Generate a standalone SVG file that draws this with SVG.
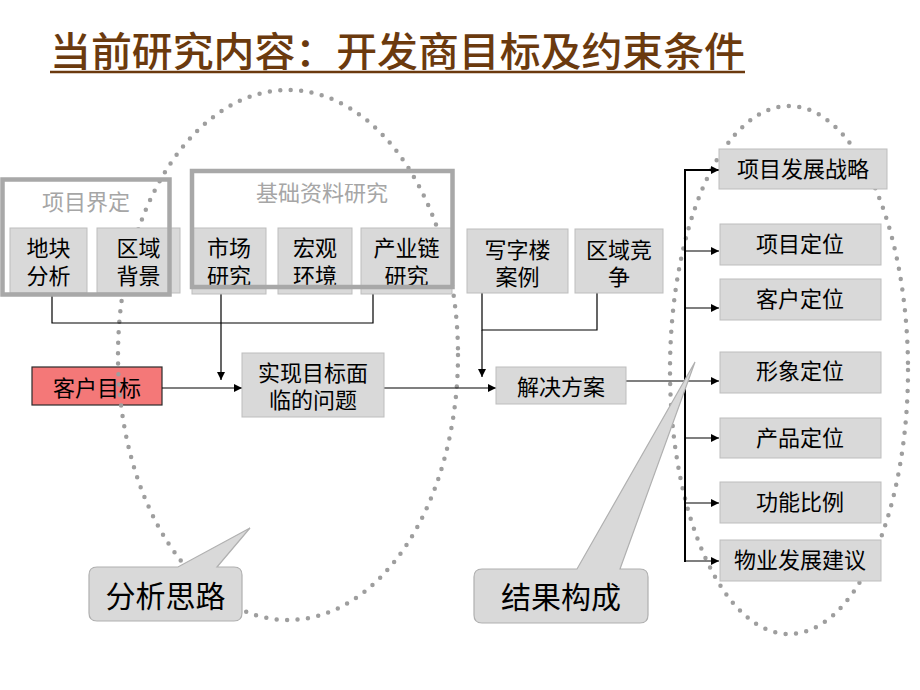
<svg xmlns="http://www.w3.org/2000/svg" width="920" height="690" viewBox="0 0 920 690">
<defs>
<style>
.t{font-family:"Liberation Sans","Noto Sans CJK SC",sans-serif;fill:#000;text-anchor:middle}
.box{fill:#d9d9d9;stroke:#bdbdbd;stroke-width:1}
.grp{fill:none;stroke:#a8a8a8;stroke-width:4.5}
.glbl{font-family:"Liberation Sans","Noto Sans CJK SC",sans-serif;fill:#a6a6a6;font-size:22px;text-anchor:middle}
.ln{fill:none;stroke:#000;stroke-width:1.2}
.bus{fill:none;stroke:#000;stroke-width:2}
.dots{fill:none;stroke:#9e9e9e;stroke-width:4.5;stroke-linecap:round;stroke-dasharray:0 10.5}
.call{fill:#d9d9d9;stroke:#b0b0b0;stroke-width:1.2}
</style>
<marker id="ah" viewBox="0 0 10 10" refX="10" refY="5" markerWidth="8" markerHeight="8" markerUnits="userSpaceOnUse" orient="auto">
<path d="M0,0 L10,5 L0,10 Z" fill="#000"/>
</marker>
</defs>
<rect width="920" height="690" fill="#fff"/>

<g id="title">
<text x="50" y="66" font-family="'Noto Sans CJK SC',sans-serif" font-size="40" font-weight="500" fill="#6b3a0e" textLength="695" lengthAdjust="spacingAndGlyphs">当前研究内容：开发商目标及约束条件</text>
<line x1="50" y1="72" x2="745" y2="72" stroke="#6b3a0e" stroke-width="2.5"/>
</g>

<g id="n-kehu"><rect x="32" y="367" width="130" height="38" fill="#f47878" stroke="#2a2a2a" stroke-width="1.2"/><text class="t" font-size="22" x="97" y="396">客户目标</text></g>

<g id="ellipses">
<ellipse class="dots" cx="288" cy="355" rx="170" ry="265"/>
<ellipse class="dots" cx="789" cy="370" rx="119" ry="264"/>
</g>

<g id="connectors">
<polyline class="ln" points="52,293 52,323 373,323 373,294"/>
<line class="ln" x1="221" y1="294" x2="221" y2="380" marker-end="url(#ah)"/>
<line class="ln" x1="162" y1="388" x2="242" y2="388" marker-end="url(#ah)"/>
<line class="ln" x1="384" y1="388" x2="496" y2="388" marker-end="url(#ah)"/>
<polyline class="ln" points="482,293 482,330 597,330 597,293"/>
<line class="ln" x1="482" y1="330" x2="482" y2="377" marker-end="url(#ah)"/>
<line class="ln" x1="626" y1="381" x2="719" y2="381" marker-end="url(#ah)"/>
<polyline class="bus" points="685,170 685,562"/>
<line class="bus" x1="684" y1="170" x2="719" y2="170" marker-end="url(#ah)"/>
<line class="ln" x1="685" y1="251" x2="719" y2="251" marker-end="url(#ah)"/>
<line class="ln" x1="685" y1="308" x2="719" y2="308" marker-end="url(#ah)"/>
<line class="ln" x1="685" y1="438" x2="719" y2="438" marker-end="url(#ah)"/>
<line class="ln" x1="685" y1="503" x2="719" y2="503" marker-end="url(#ah)"/>
<line class="ln" x1="685" y1="561" x2="719" y2="561" marker-end="url(#ah)"/>
</g>

<g id="n-dikuai"><rect class="box" x="10" y="228" width="77" height="65"/><text class="t" font-size="22"><tspan x="48.5" y="256">地块</tspan><tspan x="48.5" y="284">分析</tspan></text></g>
<g id="n-quyu"><rect class="box" x="97" y="228" width="83" height="65"/><text class="t" font-size="22"><tspan x="138.5" y="256">区域</tspan><tspan x="138.5" y="284">背景</tspan></text></g>
<g id="n-shichang"><rect class="box" x="192" y="228" width="74" height="66"/><text class="t" font-size="22"><tspan x="229" y="256">市场</tspan><tspan x="229" y="284">研究</tspan></text></g>
<g id="n-hongguan"><rect class="box" x="278" y="228" width="74" height="66"/><text class="t" font-size="22"><tspan x="315" y="256">宏观</tspan><tspan x="315" y="284">环境</tspan></text></g>
<g id="n-chanye"><rect class="box" x="361" y="228" width="91" height="66"/><text class="t" font-size="22"><tspan x="406.5" y="256">产业链</tspan><tspan x="406.5" y="284">研究</tspan></text></g>

<g id="g-xiangmu"><rect class="grp" x="2.5" y="179.5" width="167" height="115"/><text class="glbl" x="86" y="210">项目界定</text></g>
<g id="g-jichu"><rect class="grp" x="192" y="171" width="260.5" height="116"/><text class="glbl" x="322" y="201">基础资料研究</text></g>

<g id="n-xiezilou"><rect class="box" x="467" y="229" width="101" height="64"/><text class="t" font-size="22"><tspan x="517.5" y="258">写字楼</tspan><tspan x="517.5" y="285">案例</tspan></text></g>
<g id="n-jingzheng"><rect class="box" x="575" y="229" width="88" height="64"/><text class="t" font-size="22"><tspan x="619" y="258">区域竞</tspan><tspan x="619" y="285">争</tspan></text></g>

<g id="n-shixian"><rect class="box" x="242" y="353" width="142" height="64"/><text class="t" font-size="22"><tspan x="313" y="381">实现目标面</tspan><tspan x="313" y="408">临的问题</tspan></text></g>
<g id="n-jiejue"><rect class="box" x="496" y="367" width="130" height="37"/><text class="t" font-size="22" x="561" y="395">解决方案</text></g>

<g id="n-r1"><rect class="box" x="719" y="149" width="168" height="40"/><text class="t" font-size="22" x="803" y="177">项目发展战略</text></g>
<g id="n-r2"><rect class="box" x="720" y="224" width="161" height="41"/><text class="t" font-size="22" x="800" y="252">项目定位</text></g>
<g id="n-r3"><rect class="box" x="720" y="279" width="161" height="41"/><text class="t" font-size="22" x="800" y="307">客户定位</text></g>
<g id="n-r4"><rect class="box" x="720" y="352" width="161" height="41"/><text class="t" font-size="22" x="800" y="379">形象定位</text></g>
<g id="n-r5"><rect class="box" x="720" y="418" width="161" height="40"/><text class="t" font-size="22" x="800" y="446">产品定位</text></g>
<g id="n-r6"><rect class="box" x="720" y="482" width="161" height="41"/><text class="t" font-size="22" x="800" y="510">功能比例</text></g>
<g id="n-r7"><rect class="box" x="720" y="540" width="161" height="41"/><text class="t" font-size="22" x="800" y="568">物业发展建议</text></g>

<g id="c-fenxi"><path class="call" d="M97,567 L178,567 L250,528 L217,567 L234,567 Q242,567 242,575 L242,613 Q242,621 234,621 L97,621 Q89,621 89,613 L89,575 Q89,567 97,567 Z"/><text class="t" font-size="30" x="165.5" y="607">分析思路</text></g>
<g id="c-jieguo"><path class="call" d="M482,569 L577,569 L695,362 L620,569 L640,569 Q648,569 648,577 L648,615 Q648,623 640,623 L482,623 Q474,623 474,615 L474,577 Q474,569 482,569 Z"/><text class="t" font-size="30" x="561" y="608">结果构成</text></g>
</svg>
